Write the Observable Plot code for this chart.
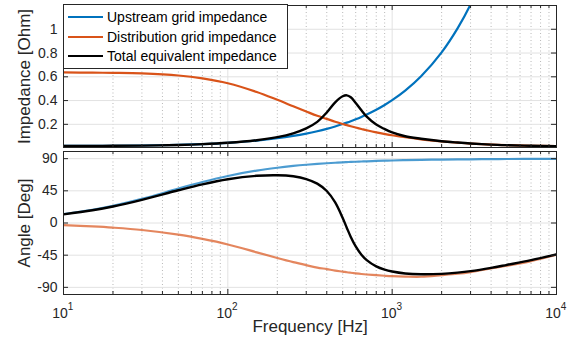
<!DOCTYPE html>
<html>
<head>
<meta charset="utf-8">
<script src="https://cdn.jsdelivr.net/npm/d3@7"></script>
<script src="https://cdn.jsdelivr.net/npm/@observablehq/plot@0.6"></script>
<style>
  html, body { margin: 0; padding: 0; background: #fff; }
  body { font-family: "Liberation Sans", Arial, sans-serif; }
  #wrap { position: relative; width: 586px; height: 340px; overflow: hidden; background: #fff; }
  #top, #bot { position: absolute; left: 0; }
  #top { top: 0; }
  #bot { top: 148px; }
  #legend { position: absolute; left: 63px; top: 4px; width: 225px; height: 65px; box-sizing: border-box;
            border: 1px solid #262626; background: #fff; }
  .row { position: absolute; left: 0; height: 18px; width: 223px; }
  .sw { position: absolute; left: 4px; top: 8px; width: 35px; height: 2.4px; }
  .lbl { position: absolute; left: 43px; top: 0; font-size: 14px; line-height: 18px; color: #000; white-space: nowrap; }
</style>
</head>
<body>
<div id="wrap">
  <div id="top"></div>
  <div id="bot"></div>
  <div id="legend"></div>
</div>
<script>
// ---- data ----
const freq = [10, 15, 20, 30, 50, 70, 100, 150, 200, 250, 300, 350, 400, 450, 500, 530, 560, 600, 650, 700,
              800, 900, 1000, 1200, 1500, 2000, 2500, 3000, 4000, 5000, 7000, 10000];

const upstreamMag = [0.0185, 0.0191, 0.0198, 0.0218, 0.0271, 0.0335, 0.0442, 0.0631, 0.0826, 0.1024,
                     0.1222, 0.1422, 0.1622, 0.1822, 0.2023, 0.2144, 0.2264, 0.2425, 0.2626, 0.2827,
                     0.3229, 0.3632, 0.4034, 0.4839, 0.6048, 0.8062, 1.008, 1.209, 1.612, 2.015, 2.821, 4.03];
const upstreamAng = [12.6, 18.5, 24.0, 33.7, 48.1, 57.3, 65.8, 73.3, 77.3, 79.8,
                     81.5, 82.7, 83.6, 84.3, 84.9, 85.2, 85.4, 85.7, 86.0, 86.3,
                     86.8, 87.1, 87.4, 87.9, 88.3, 88.7, 89.0, 89.1, 89.4, 89.5, 89.6, 89.7];

const distMag = [0.637, 0.635, 0.633, 0.628, 0.611, 0.587, 0.546, 0.472, 0.406, 0.352,
                 0.308, 0.272, 0.246, 0.222, 0.203, 0.193, 0.184, 0.173, 0.161, 0.150,
                 0.132, 0.119, 0.108, 0.091, 0.074, 0.057, 0.046, 0.038, 0.029, 0.0245, 0.0195, 0.0165];
const distAng = [-3.0, -4.8, -6.5, -9.8, -16.3, -22.3, -30.0, -41.0, -49.0, -54.8,
                 -59.0, -62.3, -64.5, -66.6, -68.0, -68.9, -69.6, -70.4, -71.3, -72.0,
                 -73.0, -73.8, -74.4, -75.0, -75.2, -73.0, -71.0, -68.6, -63.6, -59.8, -53.3, -44.5];

const totalMag = [0.0180, 0.0186, 0.0193, 0.0212, 0.0266, 0.0331, 0.0444, 0.0663, 0.0924, 0.1247,
                  0.1659, 0.2206, 0.300, 0.385, 0.436, 0.444, 0.428, 0.380, 0.318, 0.265,
                  0.198, 0.160, 0.132, 0.100, 0.079, 0.058, 0.0465, 0.0385, 0.0293, 0.0247, 0.0197, 0.0167];
const totalAng = [12.1, 17.8, 23.1, 32.4, 45.8, 54.1, 61.2, 66.0, 66.8, 65.3,
                  61.5, 55.1, 44.8, 28.8, 7.0, -6.9, -19.5, -32.8, -44.4, -51.9,
                  -60.7, -65.3, -67.9, -70.6, -71.7, -71.1, -69.4, -67.3, -62.7, -58.5, -52.0, -44.0];

const seriesNames = ["Upstream grid impedance", "Distribution grid impedance", "Total equivalent impedance"];
const seriesColors = ["#0072BD", "#D95319", "#000000"];

const magTicks = [0.2, 0.4, 0.6, 0.8, 1];
const angTicks = [-90, -45, 0, 45, 90];
const xMajor = [10, 100, 1000, 10000];
const xExponents = ["1", "2", "3", "4"];
const xMinor = [20, 30, 40, 50, 60, 70, 80, 90, 200, 300, 400, 500, 600, 700, 800, 900,
                2000, 3000, 4000, 5000, 6000, 7000, 8000, 9000];

// ---- build ----
const W = 586, ML = 63, MR = 30;
const series = [
  {name: seriesNames[0], color: seriesColors[0], mag: upstreamMag, ang: upstreamAng, w: 2.2, fade: true},
  {name: seriesNames[1], color: seriesColors[1], mag: distMag, ang: distAng, w: 2.2, fade: true},
  {name: seriesNames[2], color: seriesColors[2], mag: totalMag, ang: totalAng, w: 2.4, fade: false}
];
const gridCol = "#e2e2e2", axCol = "#262626";

function panel(o) {
  const ph = o.height - o.mt - o.mb, pw = W - ML - MR;
  const marks = [
    Plot.gridX(xMinor, {x: d => d, stroke: "#b8b8b8", strokeOpacity: 1, strokeDasharray: "1,2.5"}),
    Plot.gridX(xMajor, {x: d => d, stroke: gridCol, strokeOpacity: 1}),
    Plot.gridY(o.yTicks, {y: d => d, stroke: gridCol, strokeOpacity: 1})
  ];
  for (const s of series) {
    const rows = freq.map((f, i) => ({f, v: s[o.key][i]}));
    marks.push(Plot.line(rows, {
      x: "f", y: "v", stroke: s.color, strokeWidth: s.w,
      strokeOpacity: (o.key === "ang" && s.fade) ? 0.7 : 1,
      curve: "catmull-rom", clip: true
    }));
  }
  marks.push(
    Plot.tickX(xMajor, {x: d => d, stroke: axCol, insetTop: ph - 5}),
    Plot.tickX(xMajor, {x: d => d, stroke: axCol, insetBottom: ph - 5}),
    Plot.tickX(xMinor, {x: d => d, stroke: axCol, insetTop: ph - 3}),
    Plot.tickX(xMinor, {x: d => d, stroke: axCol, insetBottom: ph - 3}),
    Plot.tickY(o.yTicks, {y: d => d, stroke: axCol, insetRight: pw - 5}),
    Plot.tickY(o.yTicks, {y: d => d, stroke: axCol, insetLeft: pw - 5}),
    Plot.frame({stroke: axCol}),
    Plot.axisY({ticks: o.yTicks, tickFormat: o.fmt, tickSize: 0, tickPadding: 6, label: null, fontSize: 14}),
    Plot.text([o.ylabel], {frameAnchor: "left", dx: -39, rotate: -90, textAnchor: "middle", lineAnchor: "middle", fontSize: 17, fill: axCol})
  );
  if (o.xlabels) {
    marks.push(
      Plot.text(xMajor, {x: d => d, text: () => "10", frameAnchor: "bottom", dy: 19, dx: -3.5, textAnchor: "middle", lineAnchor: "middle", fontSize: 14, fill: axCol}),
      Plot.text(xMajor, {x: d => d, text: (d, i) => xExponents[i], frameAnchor: "bottom", dy: 12.5, dx: 7, textAnchor: "middle", lineAnchor: "middle", fontSize: 10, fill: axCol}),
      Plot.text(["Frequency [Hz]"], {frameAnchor: "bottom", dy: 32, textAnchor: "middle", lineAnchor: "middle", fontSize: 17, fill: axCol})
    );
  }
  return Plot.plot({
    width: W, height: o.height,
    marginLeft: ML, marginRight: MR, marginTop: o.mt, marginBottom: o.mb,
    x: {type: "log", domain: [10, 10000], axis: null},
    y: {domain: o.yDomain},
    style: {fontFamily: "Liberation Sans, Arial, sans-serif", fontSize: "14px", color: axCol, background: "transparent", overflow: "visible"},
    marks
  });
}

document.getElementById("top").appendChild(panel({
  height: 148, mt: 5, mb: 1, yDomain: [0.005, 1.2], yTicks: magTicks, key: "mag",
  fmt: d => String(d), ylabel: "Impedance [Ohm]", xlabels: false
}));
document.getElementById("bot").appendChild(panel({
  height: 192, mt: 3, mb: 46, yDomain: [-100, 100], yTicks: angTicks, key: "ang",
  fmt: d => (d < 0 ? "-" + Math.abs(d) : String(d)), ylabel: "Angle [Deg]", xlabels: true
}));

// legend
const leg = document.getElementById("legend");
const rowTops = [3, 22.5, 42];
series.forEach((s, i) => {
  const r = document.createElement("div");
  r.className = "row";
  r.style.top = rowTops[i] + "px";
  const sw = document.createElement("div");
  sw.className = "sw";
  sw.style.background = s.color;
  const l = document.createElement("div");
  l.className = "lbl";
  l.textContent = s.name;
  r.appendChild(sw); r.appendChild(l);
  leg.appendChild(r);
});
</script>
</body>
</html>
